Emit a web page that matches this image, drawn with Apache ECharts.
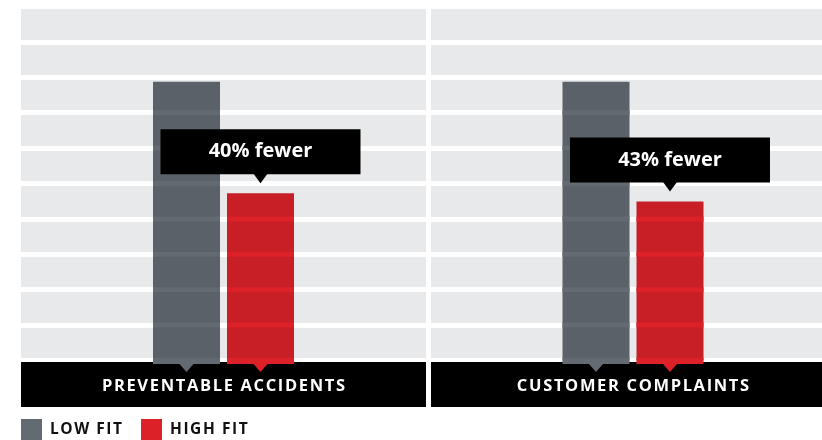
<!DOCTYPE html>
<html>
<head>
<meta charset="utf-8">
<script src="https://cdn.jsdelivr.net/npm/echarts@6/dist/echarts.min.js"></script>
<style>
  html, body { margin: 0; padding: 0; background: #fff; }
  #chart { width: 822px; height: 440px; }
</style>
</head>
<body>
<div id="chart"></div>
<script>
// Incident counts indexed to the low-fit group (= 100)
const categories = ['PREVENTABLE ACCIDENTS', 'CUSTOMER COMPLAINTS'];
const lowFit = [100, 100];
const highFit = [60, 57];
const callouts = ['40% fewer', '43% fewer'];
const seriesNames = ['LOW FIT', 'HIGH FIT'];

const GRAY = '#636a72';
const RED = '#dc2129';
const STRIPE = '#e8e9eb';
const FONT = '"Open Sans", Lato, sans-serif';
const BAR_W = 67;
const BAR_OFFSET = 37;
const Y_MAX = 127;
const Y_STEP = 12.7;

// tracking for the uppercase labels
function spaced(s) { return s.split('').join('\u200A'); }

// colour of a bar seen through the grey bands (multiply)
function shade(hex) {
  const a = parseInt(hex.slice(1), 16), b = parseInt(STRIPE.slice(1), 16);
  const ch = (s) => Math.round(((a >> s) & 255) * ((b >> s) & 255) / 255);
  return 'rgb(' + ch(16) + ',' + ch(8) + ',' + ch(0) + ')';
}

function barItem(offset, withCallout, panel) {
  return function (params, api) {
    const top = api.coord([api.value(0), api.value(1)]);
    const base = api.coord([api.value(0), 0]);
    const cx = top[0] + offset;
    const x0 = cx - BAR_W / 2, x1 = cx + BAR_W / 2;
    const color = api.visual('color');
    const children = [
      {
        type: 'rect',
        shape: { x: x0, y: top[1], width: BAR_W, height: base[1] - top[1] },
        style: { fill: shade(color) }
      }
    ];
    // the white gaps between bands show through the bar in its pure colour
    for (let v = Y_STEP; v < Y_MAX + 0.01; v += Y_STEP) {
      const y = api.coord([api.value(0), v])[1];
      const ya = Math.max(y - 2.5, top[1]), yb = Math.min(y + 2.5, base[1]);
      if (yb > ya) {
        children.push({
          type: 'rect',
          shape: { x: x0, y: ya, width: BAR_W, height: yb - ya },
          style: { fill: color }
        });
      }
    }
    children.push({
      type: 'polygon',
      shape: { points: [[x0, base[1] - 2.5], [x1, base[1] - 2.5], [x1, base[1] + 3.5], [cx + 7, base[1] + 3.5],
                        [cx, base[1] + 11.5], [cx - 7, base[1] + 3.5], [x0, base[1] + 3.5]] },
      style: { fill: color }
    });
    if (withCallout) {
      const bottom = top[1] - 19;
      children.push(
        {
          type: 'rect',
          shape: { x: cx - 100, y: bottom - 45, width: 200, height: 45 },
          style: { fill: '#000' }
        },
        {
          type: 'polygon',
          shape: { points: [[cx - 7, bottom - 0.5], [cx + 7, bottom - 0.5], [cx, bottom + 9]] },
          style: { fill: '#000' }
        },
        {
          type: 'text',
          style: {
            text: callouts[panel],
            x: cx, y: bottom - 22.5,
            align: 'center', verticalAlign: 'middle',
            fill: '#fff', font: 'bold 20px ' + FONT
          }
        }
      );
    }
    return { type: 'group', children: children };
  };
}

const grids = [
  { left: 21, top: 6.5, width: 405, height: 354, outerBoundsMode: 'none', containLabel: false },
  { left: 431, top: 6.5, width: 404, height: 354, outerBoundsMode: 'none', containLabel: false }
];

const xAxes = categories.map((c, i) => ({
  type: 'category',
  gridIndex: i,
  data: [c],
  axisLine: { show: false },
  axisTick: { show: false },
  axisLabel: {
    margin: 1.5,
    formatter: spaced,
    color: '#fff',
    fontFamily: FONT,
    fontWeight: 'bold',
    fontSize: 16.5,
    backgroundColor: '#000',
    width: grids[i].width,
    height: 42,
    lineHeight: 42,
    padding: [3, 0, 0, 0],
    align: 'center',
    verticalAlign: 'top'
  }
}));

const yAxes = categories.map((c, i) => ({
  type: 'value',
  gridIndex: i,
  min: 0,
  max: Y_MAX,
  interval: Y_STEP,
  axisLine: { show: false },
  axisTick: { show: false },
  axisLabel: { show: false },
  splitArea: { show: true, areaStyle: { color: [STRIPE] } },
  splitLine: { show: true, lineStyle: { color: '#fff', width: 5 } }
}));

const series = [];
categories.forEach((c, i) => {
  series.push({
    name: seriesNames[0],
    type: 'custom',
    xAxisIndex: i, yAxisIndex: i,
    itemStyle: { color: GRAY },
    renderItem: barItem(-BAR_OFFSET, false, i),
    encode: { x: 0, y: 1 },
    data: [[0, lowFit[i]]],
    z: 2
  });
  series.push({
    name: seriesNames[1],
    type: 'custom',
    xAxisIndex: i, yAxisIndex: i,
    itemStyle: { color: RED },
    renderItem: barItem(BAR_OFFSET, true, i),
    encode: { x: 0, y: 1 },
    data: [[0, highFit[i]]],
    z: 3
  });
});

const chart = echarts.init(document.getElementById('chart'), null, { renderer: 'canvas' });
chart.setOption({
  animation: false,
  backgroundColor: '#fff',
  grid: grids,
  xAxis: xAxes,
  yAxis: yAxes,
  legend: {
    data: seriesNames,
    left: 21,
    top: 419,
    padding: 0,
    itemWidth: 21,
    itemHeight: 21,
    itemGap: 19,
    icon: 'rect',
    selectedMode: false,
    formatter: spaced,
    textStyle: {
      color: '#111',
      fontFamily: FONT,
      fontWeight: 'bold',
      fontSize: 15.5,
      padding: [0, 0, 0, 3]
    }
  },
  series: series
});
</script>
</body>
</html>
